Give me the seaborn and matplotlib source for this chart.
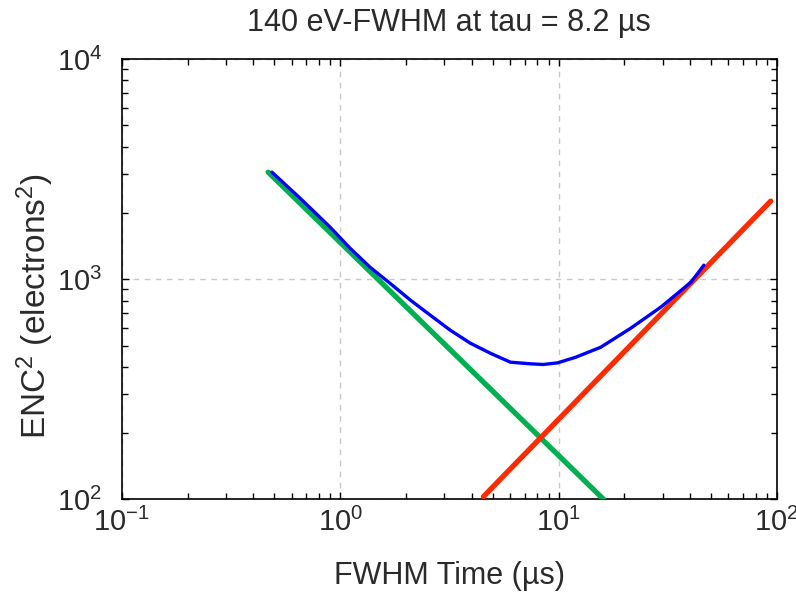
import numpy as np
import pandas as pd
import matplotlib
matplotlib.use("Agg")
import matplotlib.pyplot as plt
import seaborn as sns

# Data
blue_x = [0.487, 0.655, 0.90, 1.11, 1.37, 1.69, 2.10, 2.59, 3.20, 3.95, 4.88, 6.02, 7.44, 8.5, 9.89,
          11.96, 15.6, 21.4, 29.4, 40.4, 46.3]
blue_y = [3063, 2334, 1722, 1383, 1134, 959, 803, 686, 586, 512, 461, 420, 413, 410, 417,
          442, 491, 599, 747, 969, 1158]
green_x = [0.468, 16.1]
green_y = [3064, 100]
red_x = [4.53, 93.7]
red_y = [103, 2264]

title = "140 eV-FWHM at tau = 8.2 \u00b5s"
xlabel = "FWHM Time (\u00b5s)"
ylabel = "ENC$^2$ (electrons$^2$)"

sns.set_style("ticks")
plt.rcParams["font.family"] = ["Liberation Sans", "DejaVu Sans"]
plt.rcParams["mathtext.fontset"] = "custom"
plt.rcParams["mathtext.rm"] = "Liberation Sans"
plt.rcParams["mathtext.it"] = "Liberation Sans"
plt.rcParams["mathtext.bf"] = "Liberation Sans"

fig = plt.figure(figsize=(7.96, 5.96), dpi=100)
ax = fig.add_axes([0.153, 0.162, 0.823, 0.739])

sns.lineplot(x=green_x, y=green_y, ax=ax, color="#00b050", lw=3.8, sort=False, zorder=3)
sns.lineplot(x=red_x, y=red_y, ax=ax, color="#ff2a00", lw=3.8, sort=False, zorder=3)
sns.lineplot(x=blue_x, y=blue_y, ax=ax, color="#0000ff", lw=2.4, sort=False, zorder=4)

ax.set_xscale("log")
ax.set_yscale("log")
ax.set_xlim(0.1, 100)
ax.set_ylim(100, 10000)

ax.grid(True, which="major", ls=(0, (4, 4)), color="#c8c8c8", lw=1.0)
ax.set_axisbelow(True)
for s in ax.spines.values():
    s.set_color("black")
    s.set_linewidth(1.2)
ax.tick_params(which="both", direction="in", top=True, right=True, colors="black", labelsize=21)
ax.tick_params(axis="x", pad=6)
ax.tick_params(axis="y", pad=14)
ax.tick_params(which="major", length=5, width=1)
ax.tick_params(which="minor", length=4, width=1)

ax.set_title(title, fontsize=22, pad=20, color="#2a2a2a")
ax.set_xlabel(xlabel, fontsize=22, color="#2a2a2a", labelpad=17)
ax.set_ylabel(ylabel, fontsize=24, color="#2a2a2a")
ax.yaxis.set_label_coords(-0.10, 0.44)
for lbl in ax.get_xticklabels() + ax.get_yticklabels():
    lbl.set_color("#2a2a2a")

fig.savefig("out.png", dpi=100)
